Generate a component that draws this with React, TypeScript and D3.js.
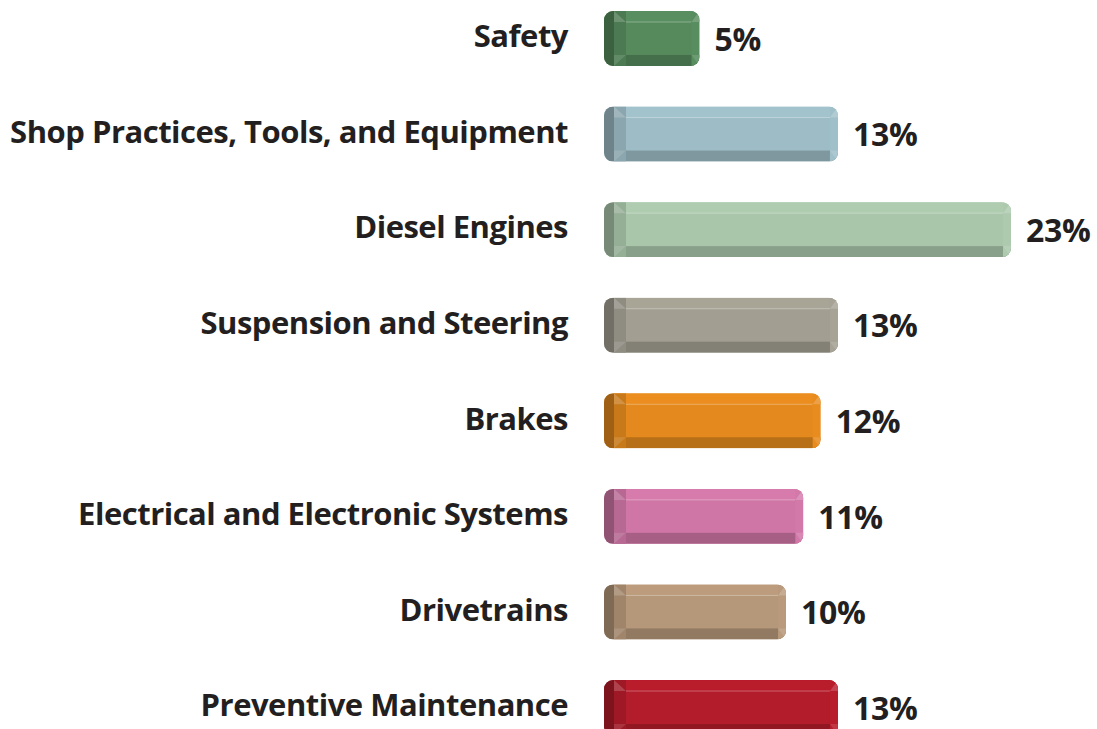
import React, { useEffect, useRef } from 'react';
import * as d3 from 'd3';

const categories = [
  'Safety',
  'Shop Practices, Tools, and Equipment',
  'Diesel Engines',
  'Suspension and Steering',
  'Brakes',
  'Electrical and Electronic Systems',
  'Drivetrains',
  'Preventive Maintenance',
];
const percentages = [5, 13, 23, 13, 12, 11, 10, 13];
const barColors = ['#568a5d', '#9dbcc5', '#a9c5aa', '#a29f92', '#e3891e', '#cf76a6', '#b59779', '#b31c2a'];

const width = 1097;
const height = 729;

const App: React.FC = () => {
  const svgRef = useRef<SVGSVGElement>(null);

  useEffect(() => {
    if (!svgRef.current) return;
    const svg = d3.select(svgRef.current);
    svg.selectAll('*').remove();

    const data = categories.map((name, i) => ({ name, value: percentages[i], color: barColors[i] }));

    const x = d3.scaleLinear().domain([0, 23]).range([613, 1011]);
    const y = d3.scaleBand<string>()
      .domain(categories)
      .range([11, 735])
      .paddingInner(0.425)
      .paddingOuter(0);
    const bh = y.bandwidth();
    const capX = 604;
    const font = '"Open Sans", "Noto Sans", sans-serif';

    const defs = svg.append('defs');

    const rows = svg.selectAll('.row')
      .data(data)
      .enter().append('g')
      .attr('class', 'row')
      .attr('transform', d => `translate(0, ${y(d.name)})`);

    rows.each(function (d, i) {
      const g = d3.select(this);
      const base = d3.color(d.color)!;
      const xe = x(d.value);
      const id = `clip-${i}`;

      defs.append('clipPath').attr('id', id)
        .append('rect')
        .attr('x', capX).attr('y', 0)
        .attr('width', xe - capX).attr('height', bh)
        .attr('rx', 9);

      const inner = g.append('g').attr('clip-path', `url(#${id})`);

      // main body
      inner.append('rect')
        .attr('x', capX).attr('y', 0)
        .attr('width', xe - capX).attr('height', bh)
        .attr('fill', base.formatHex());

      // top bevel
      inner.append('rect')
        .attr('x', capX + 10).attr('y', 0)
        .attr('width', xe - capX - 10).attr('height', 11)
        .attr('fill', base.brighter(0.1).formatHex());

      // bottom bevel
      inner.append('rect')
        .attr('x', capX + 10).attr('y', bh - 11)
        .attr('width', xe - capX - 10).attr('height', 11)
        .attr('fill', base.darker(0.6).formatHex());

      // highlight line
      inner.append('line')
        .attr('x1', capX + 22).attr('x2', xe - 8)
        .attr('y1', 11).attr('y2', 11)
        .attr('stroke', '#fff').attr('stroke-opacity', 0.3).attr('stroke-width', 1);

      // inner left strip
      inner.append('rect')
        .attr('x', capX + 10).attr('y', 0)
        .attr('width', 12).attr('height', bh)
        .attr('fill', base.darker(0.35).formatHex());

      // right end bevel
      inner.append('rect')
        .attr('x', xe - 8).attr('y', 0)
        .attr('width', 8).attr('height', bh)
        .attr('fill', base.brighter(0.06).formatHex());

      // left dark cap
      inner.append('rect')
        .attr('x', capX).attr('y', 0)
        .attr('width', 10).attr('height', bh)
        .attr('fill', base.darker(1.0).formatHex());

      // corner glints
      inner.append('path')
        .attr('d', `M${capX + 10},0 L${capX + 22},11 L${capX + 10},11 Z M${xe - 8},11 L${xe},0 L${xe},11 Z`)
        .attr('fill', '#fff').attr('fill-opacity', 0.18);
      inner.append('path')
        .attr('d', `M${capX + 10},${bh} L${capX + 22},${bh - 11} L${capX + 10},${bh - 11} Z M${xe - 8},${bh - 11} L${xe},${bh} L${xe},${bh - 11} Z`)
        .attr('fill', '#fff').attr('fill-opacity', 0.12);

      // category label
      g.append('text')
        .attr('x', 568)
        .attr('y', bh / 2 - 2)
        .attr('dy', '0.35em')
        .attr('text-anchor', 'end')
        .style('font-family', font)
        .style('font-weight', 700)
        .style('font-size', '31px')
        .style('letter-spacing', '-0.5px')
        .style('fill', '#231f20')
        .text(d.name);

      // value label
      g.append('text')
        .attr('x', xe + 15)
        .attr('y', bh / 2 + 1)
        .attr('dy', '0.35em')
        .style('font-family', font)
        .style('font-weight', 700)
        .style('font-size', '32px')
        .style('letter-spacing', '-0.3px')
        .style('fill', '#231f20')
        .text(`${d.value}%`);
    });
  }, []);

  return (
    <svg
      ref={svgRef}
      width={width}
      height={height}
      style={{ position: 'absolute', left: 0, top: 0, background: '#fff' }}
    />
  );
};

export default App;
